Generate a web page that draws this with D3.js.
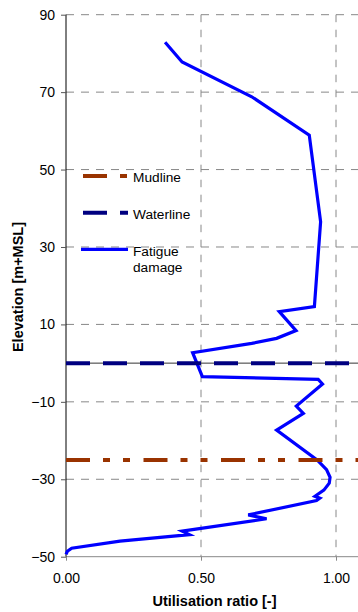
<!DOCTYPE html>
<html>
<head>
<meta charset="utf-8">
<script src="https://cdn.jsdelivr.net/npm/d3@7"></script>
<style>
body { margin: 0; background: #fff; }
svg { display: block; font-family: "Liberation Sans", Arial, sans-serif; }
</style>
</head>
<body>
<div id="wrapper"></div>
<script>
// fatigue utilisation along the structure
const utilisation = [0.367, 0.43, 0.688, 0.901, 0.943, 0.92, 0.79, 0.852, 0.78, 0.688, 0.469, 0.505, 0.934, 0.95,
    0.853, 0.879, 0.78, 0.93, 0.965, 0.978, 0.975, 0.955, 0.922, 0.94, 0.928, 0.675, 0.743, 0.43, 0.457, 0.2,
    0.021, 0.005, 0.0]
const elevation = [82.9, 77.8, 68.8, 58.9, 36.5, 14.6, 13.3, 8.4, 6.4, 5.1, 2.7, -3.5, -4.2, -5.4,
    -11.1, -13.0, -17.3, -25.0, -27.5, -29.5, -31.0, -32.8, -34.4, -34.9, -35.5, -39.2, -40.2, -43.4, -44.3, -46.0,
    -47.8, -48.6, -49.4]
const mudline = -25
const waterline = 0
const xTicks = [0, 0.5, 1.0]
const yTicks = [90, 70, 50, 30, 10, -10, -30, -50]
const legendNames = ["Mudline", "Waterline", "Fatigue damage"]

function drawchart() {
    const width = 358
    const height = 612
    const left = 66, top = 14.7, plotBottom = 556.7, plotRight = 363

    const svg = d3.select("#wrapper").append("svg")
        .attr("width", width)
        .attr("height", height)

    const x = d3.scaleLinear().domain([0, 1.1]).range([left, plotRight])
    const y = d3.scaleLinear().domain([-50, 90]).range([plotBottom, top])

    const grid = "#888"
    // horizontal grid
    svg.append("g").selectAll("line")
        .data(yTicks.filter(d => d != -50))
        .enter().append("line")
        .attr("x1", left).attr("x2", plotRight)
        .attr("y1", d => y(d)).attr("y2", d => y(d))
        .attr("stroke", grid).attr("stroke-dasharray", "8,7")
    // vertical grid
    svg.append("g").selectAll("line")
        .data(xTicks.filter(d => d > 0))
        .enter().append("line")
        .attr("x1", d => x(d)).attr("x2", d => x(d))
        .attr("y1", top).attr("y2", plotBottom)
        .attr("stroke", grid).attr("stroke-dasharray", "7.5,7.5")

    // bottom axis
    const xAxis = svg.append("g")
        .attr("transform", "translate(0," + plotBottom + ")")
        .call(d3.axisBottom(x).tickValues(xTicks).tickFormat(d3.format(".2f")).tickSize(4).tickPadding(12))
    xAxis.select(".domain").remove()
    xAxis.append("line").attr("x1", left).attr("x2", plotRight).attr("stroke", grid)
    xAxis.selectAll(".tick line").attr("stroke", grid)
    xAxis.selectAll("text").attr("fill", "#000").style("font-size", "14px")
    xAxis.attr("font-family", null)

    // left axis
    const yAxis = svg.append("g")
        .attr("transform", "translate(" + left + ",0)")
        .call(d3.axisLeft(y).tickValues(yTicks).tickFormat(d3.format("d")).tickSize(5).tickPadding(6))
    yAxis.select(".domain").attr("d", "M0," + top + "V" + plotBottom).attr("stroke", "#000")
    yAxis.selectAll(".tick line").attr("stroke", "#555")
    yAxis.selectAll("text").attr("fill", "#000").style("font-size", "14px")
    yAxis.attr("font-family", null)

    // axis line crossing at elevation 0
    svg.append("line")
        .attr("x1", left).attr("x2", width)
        .attr("y1", y(0)).attr("y2", y(0))
        .attr("stroke", "#333")

    const line = d3.line()
        .x(d => x(d[0]))
        .y(d => y(d[1]))

    svg.append("path")
        .datum(d3.zip(utilisation, elevation))
        .attr("d", line)
        .attr("fill", "none")
        .attr("stroke", "#0000ff")
        .attr("stroke-width", 3.2)
        .attr("stroke-linejoin", "miter")

    const mudDash = "24,13,7,13,7,13.5"
    const waterDash = "24,13"
    svg.append("line")
        .attr("x1", left).attr("x2", plotRight)
        .attr("y1", y(mudline)).attr("y2", y(mudline))
        .attr("stroke", "#993300").attr("stroke-width", 4).attr("stroke-dasharray", mudDash)
    svg.append("line")
        .attr("x1", left).attr("x2", plotRight)
        .attr("y1", y(waterline)).attr("y2", y(waterline))
        .attr("stroke", "#000080").attr("stroke-width", 4).attr("stroke-dasharray", waterDash)

    // legend
    const styles = [
        {c: "#993300", w: 4, dash: mudDash},
        {c: "#000080", w: 4, dash: waterDash},
        {c: "#0000ff", w: 3.2, dash: null}
    ]
    const leg = svg.append("g")
    legendNames.forEach(function(name, i) {
        const ly = 176 + i * 36.7
        const s = styles[i]
        leg.append("line")
            .attr("x1", i == 2 ? 81 : 83).attr("x2", 128)
            .attr("y1", ly).attr("y2", ly)
            .attr("stroke", s.c).attr("stroke-width", s.w)
            .attr("stroke-dasharray", s.dash)
        const words = name == "Fatigue damage" ? ["Fatigue", "damage"] : [name]
        const t = leg.append("text")
            .attr("x", 133).attr("y", ly + 6.3)
            .style("font-size", "13.7px")
        words.forEach(function(w, j) {
            t.append("tspan").attr("x", 133).attr("dy", j == 0 ? 0 : 16.5).text(w)
        })
    })

    // axis titles
    svg.append("text")
        .attr("x", (left + plotRight) / 2).attr("y", 606)
        .attr("text-anchor", "middle")
        .style("font-size", "14.5px").style("font-weight", "bold")
        .text("Utilisation ratio [-]")
    svg.append("text")
        .attr("transform", "translate(23,287) rotate(-90)")
        .attr("text-anchor", "middle")
        .style("font-size", "14.5px").style("font-weight", "bold")
        .text("Elevation [m+MSL]")
}
drawchart()
</script>
</body>
</html>
